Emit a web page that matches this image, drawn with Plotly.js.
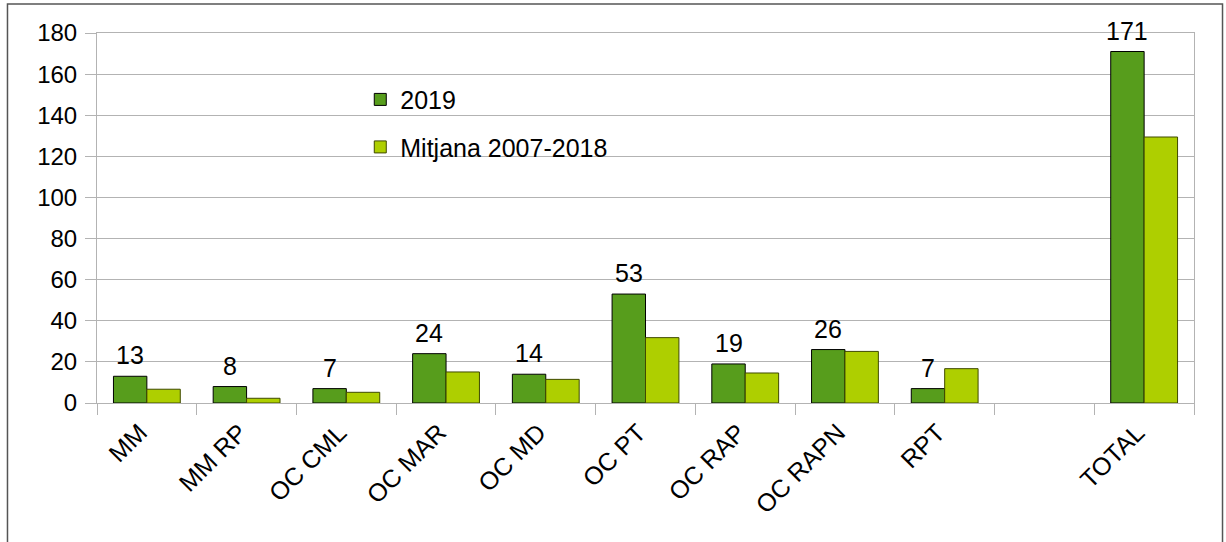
<!DOCTYPE html>
<html>
<head>
<meta charset="utf-8">
<script src="https://cdn.plot.ly/plotly-3.0.1.min.js"></script>
<style>html,body{margin:0;padding:0;background:#fff;}#chart{width:1226px;height:542px;}</style>
</head>
<body>
<div id="chart"></div>
<script>
const categories = ["MM", "MM RP", "OC CML", "OC MAR", "OC MD", "OC PT", "OC RAP", "OC RAPN", "RPT", "", "TOTAL"];
const values2019 = [13, 8, 7, 24, 14, 53, 19, 26, 7, null, 171];
const valuesMitjana = [6.7, 2.3, 5.2, 15.1, 11.5, 31.8, 14.6, 25.1, 16.7, null, 129.4];
const seriesNames = ["2019", "Mitjana 2007-2018"];
const yTicks = [0, 20, 40, 60, 80, 100, 120, 140, 160, 180];

const idx = categories.map((c, i) => i);
const bargap = 0.33;
const barOffset = (1 - bargap) / 4;
const FONT = "Liberation Sans, Arial, sans-serif";
const BIG = 25;

const traces = [
  {type: "bar", name: seriesNames[0], x: idx, y: values2019, legendgroup: "a",
   marker: {color: "#579d1c", line: {color: "#000000", width: 1}}, hoverinfo: "y"},
  {type: "bar", name: seriesNames[1], x: idx, y: valuesMitjana, legendgroup: "b",
   marker: {color: "#aecf00", line: {color: "#3f4a00", width: 1}}, hoverinfo: "y"},
  {type: "scatter", x: [], y: [], xaxis: "x2", showlegend: false, hoverinfo: "skip"}
];

const annotations = [];
values2019.forEach((v, i) => {
  if (v === null) return;
  annotations.push({x: i - barOffset, y: v, xref: "x", yref: "y", text: String(v), showarrow: false,
    yanchor: "bottom", yshift: 5, font: {family: FONT, size: BIG, color: "#000"}});
});

const boundaries = [];
for (let i = 0; i <= categories.length; i++) boundaries.push(i - 0.5);

const layout = {
  width: 1226, height: 542,
  margin: {l: 97, r: 32, t: 33, b: 139},
  paper_bgcolor: "#fff", plot_bgcolor: "#fff",
  font: {family: FONT, size: BIG, color: "#000"},
  barmode: "group", bargap: bargap, bargroupgap: 0,
  showlegend: true,
  legend: {x: 0.240, y: 0.882, xanchor: "left", yanchor: "top", bgcolor: "rgba(0,0,0,0)",
    font: {family: FONT, size: BIG, color: "#000"}, tracegroupgap: 12, traceorder: "grouped"},
  xaxis: {range: [-0.5, categories.length - 0.5], tickmode: "array", tickvals: idx, ticktext: categories,
    tickangle: -45, ticks: "", showgrid: false, zeroline: false, showline: true, linecolor: "#b3b3b3", linewidth: 1,
    mirror: true, tickfont: {family: FONT, size: BIG, color: "#000"}, ticklabelshift: -7, ticklabelstandoff: 4,
    fixedrange: true},
  xaxis2: {overlaying: "x", matches: "x", side: "bottom", tickmode: "array", tickvals: boundaries, showticklabels: false,
    ticks: "outside", ticklen: 11, tickcolor: "#b3b3b3", tickwidth: 1, showgrid: false, zeroline: false, showline: false},
  yaxis: {range: [0, 180], tickmode: "array", tickvals: yTicks, ticks: "outside", ticklen: 11, tickcolor: "#b3b3b3",
    showgrid: true, gridcolor: "#b3b3b3", gridwidth: 1, zeroline: false, showline: true, linecolor: "#b3b3b3",
    mirror: true, tickfont: {family: FONT, size: 24, color: "#000"}, ticklabelstandoff: 3, fixedrange: true},
  annotations: annotations,
  shapes: [{type: "rect", xref: "paper", yref: "paper", x0: -0.0816, x1: 1.026, y0: -0.5, y1: 1.0784,
    line: {color: "#555", width: 1.5}, fillcolor: "rgba(0,0,0,0)", layer: "below"}]
};

Plotly.newPlot("chart", traces, layout, {displayModeBar: false, staticPlot: true});
</script>
</body>
</html>
